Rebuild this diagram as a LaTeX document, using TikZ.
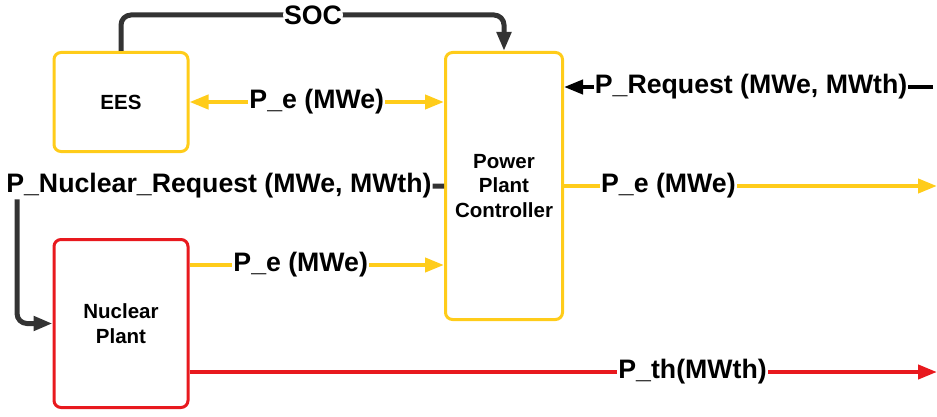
\documentclass[tikz,border=0pt]{standalone}
\usepackage{fontspec}
\setmainfont{Liberation Sans}
\usetikzlibrary{arrows.meta}
\definecolor{plantyellow}{HTML}{FFCC1A}
\definecolor{plantred}{HTML}{E8191E}
\definecolor{signalgray}{HTML}{333333}
\begin{document}
\begin{tikzpicture}[
      x=1pt, y=1pt,
      >={Triangle[length=19pt, width=14pt]},
      box/.style={rectangle, rounded corners=7pt, line width=3pt, fill=white,
                  align=center, font=\fontsize{20.5}{24.5}\selectfont\bfseries},
      eesbox/.style={box, draw=plantyellow, minimum width=134pt, minimum height=99pt},
      ctrlbox/.style={box, draw=plantyellow, minimum width=117pt, minimum height=267pt},
      nucbox/.style={box, draw=plantred, minimum width=134pt, minimum height=168pt},
      lbl/.style={fill=white, inner sep=1pt, font=\fontsize{26.7}{30}\selectfont\bfseries},
      elec/.style={draw=plantyellow, line width=4pt},
      therm/.style={->, draw=plantred, line width=4pt},
      signal/.style={->, draw=signalgray, line width=5pt, rounded corners=10pt},
      request/.style={->, draw=black, line width=4pt},
    ]
  \useasboundingbox (0,0) rectangle (937,416);

  \node[eesbox] (ees) at (121,314) {EES};
  \node[ctrlbox] (ctrl) at (504,230) {Power\\Plant\\Controller};
  \node[nucbox] (nuclear) at (121,92.5) {Nuclear\\Plant};

  \coordinate (socTop) at (313,401);
  \coordinate (nreqCorner) at (17,230);
  \coordinate (reqIn) at (933,329);
  \coordinate (peEnd) at (937,230);
  \coordinate (nucOut) at ([yshift=58.5pt]nuclear.east);
  \coordinate (thOut) at ([yshift=-48.5pt]nuclear.east);
  \coordinate (thEnd) at (937,44);

  % state of charge
  \draw[signal] (ees.north) |- (socTop) node[lbl] {SOC} -| (ctrl.north);

  % electric power flows
  \draw[elec, <->] (ees.east) -- node[lbl, midway] {P\_e (MWe)} (ees.east -| ctrl.west);
  \draw[elec, ->] (nucOut) -- node[lbl, pos=0.437] {P\_e (MWe)} (nucOut -| ctrl.west);
  \draw[elec, ->] (ctrl.east) -- node[lbl, pos=0.28] {P\_e (MWe)} (peEnd);

  % requests
  \draw[request] (reqIn) -- node[lbl, pos=0.493] {P\_Request (MWe, MWth)} (reqIn -| ctrl.east);
  \draw[signal] (ctrl.west) -- node[lbl, pos=0.527] {P\_Nuclear\_Request (MWe, MWth)}
    (nreqCorner) |- (nuclear.west);

  % thermal power
  \draw[therm] (thOut) -- node[lbl, pos=0.673] {P\_th(MWth)} (thEnd);

\end{tikzpicture}
\end{document}
